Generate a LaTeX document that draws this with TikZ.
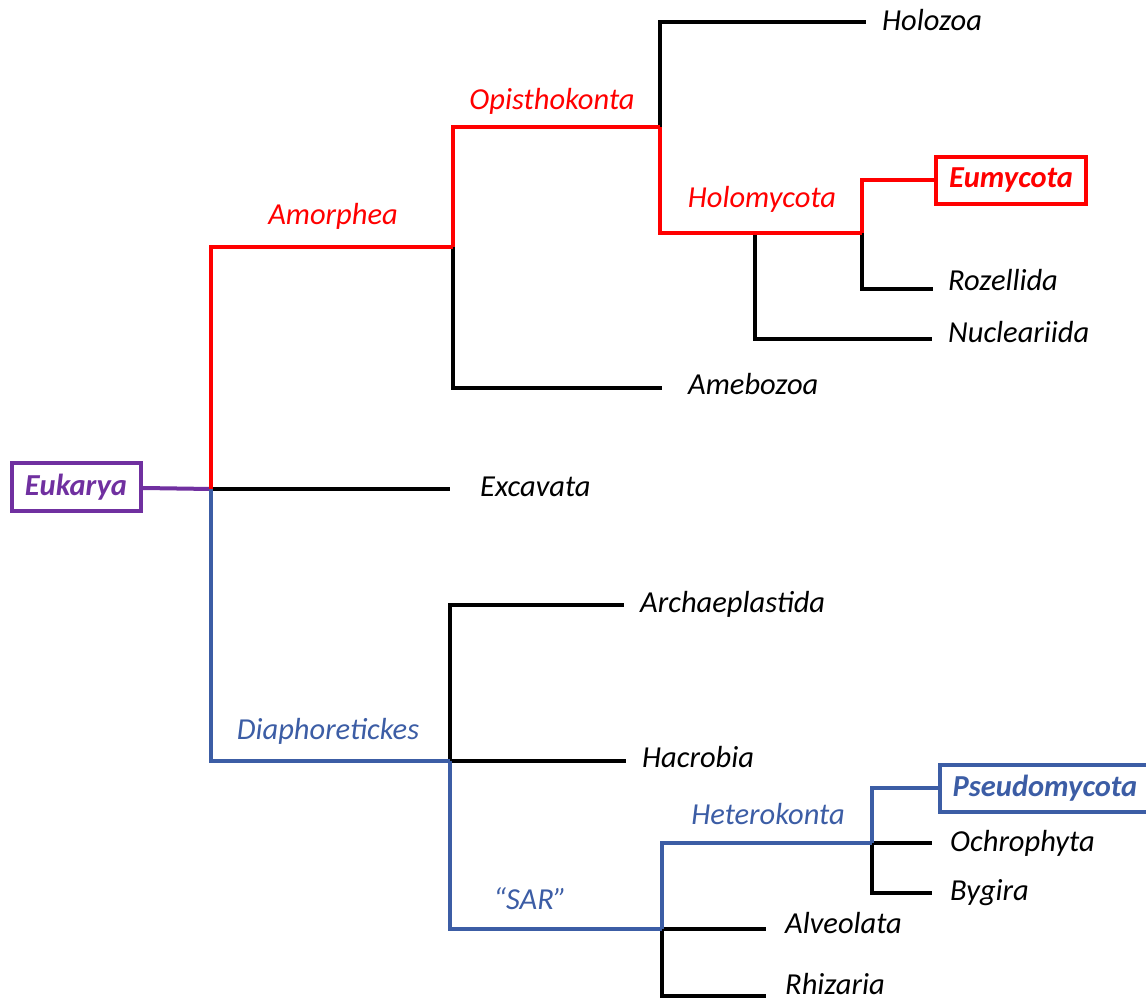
\documentclass[tikz,border=0pt]{standalone}
\usepackage{fontspec}
\setmainfont{Carlito}
\usetikzlibrary{positioning}
\definecolor{cladeRed}{HTML}{FF0000}
\definecolor{cladeBlue}{HTML}{3C5DA5}
\definecolor{cladePurple}{HTML}{7030A0}

\begin{document}
\begin{tikzpicture}[x=1pt, y=-1pt,
		branch/.style={line width=4pt, line join=miter},
		taxon/.style={anchor=west, inner xsep=16pt, inner ysep=0pt, text height=20pt, text depth=6pt, font=\fontsize{30.5}{36}\selectfont\itshape},
		clade/.style={inner sep=0pt, font=\fontsize{30.5}{36}\selectfont\itshape},
		highlight/.style={rectangle, draw, line width=4pt, inner sep=0pt, minimum height=47pt, font=\fontsize{30.5}{36}\selectfont\bfseries\itshape}]
		\path[use as bounding box, clip] (0,0) rectangle (1146,999);

		% branching points
		\coordinate (root) at (211,489);
		\coordinate (amo) at (453,247);
		\coordinate (opi) at (660,127);
		\coordinate (holm) at (862,233);
		\coordinate (nuc) at (755,233);
		\coordinate (dia) at (450,761);
		\coordinate (sar) at (662,929);
		\coordinate (het) at (872,843);

		% boxed taxa
		\node (eukarya)[highlight, draw=cladePurple, text=cladePurple, minimum width=129pt, minimum height=48pt] at (76,487) {Eukarya};
		\node (eumycota)[highlight, draw=cladeRed, text=cladeRed, minimum width=150pt, anchor=west] at (934,180) {Eumycota};
		\node (pseudomycota)[highlight, draw=cladeBlue, text=cladeBlue, minimum width=210pt, anchor=west] at (938,788) {Pseudomycota};

		% leaves
		\node (holozoa)[taxon, text depth=4pt] at (866,22) {Holozoa};
		\node (rozellida)[taxon, inner xsep=15pt, text depth=18pt] at (933,289) {Rozellida};
		\node (nucleariida)[taxon, text depth=14pt] at (932,339) {Nucleariida};
		\node (amebozoa)[taxon, inner xsep=26pt, text depth=8pt] at (662,388) {Amebozoa};
		\node (excavata)[taxon, inner xsep=30pt] at (450,489) {Excavata};
		\node (archaeplastida)[taxon, text depth=5pt] at (624,605) {Archaeplastida};
		\node (hacrobia)[taxon, text depth=8pt] at (626,761) {Hacrobia};
		\node (ochrophyta)[taxon, inner xsep=18pt, text depth=3pt] at (932,843) {Ochrophyta};
		\node (bygira)[taxon, inner xsep=18pt] at (932,893) {Bygira};
		\node (alveolata)[taxon, inner xsep=19pt, text depth=12pt] at (766,929) {Alveolata};
		\node (rhizaria)[taxon, inner xsep=19pt, text depth=24pt] at (766,996) {Rhizaria};

		% clade names
		\node (amorpheaName)[clade, text=cladeRed] at (333,216) {Amorphea};
		\node (opisthokontaName)[clade, text=cladeRed] at (552,101) {Opisthokonta};
		\node (holomycotaName)[clade, text=cladeRed] at (762,199) {Holomycota};
		\node (diaphoretickesName)[clade, text=cladeBlue] at (328,731) {Diaphoretickes};
		\node (sarName)[clade, text=cladeBlue] at (530,899) {“SAR”};
		\node (heterokontaName)[clade, text=cladeBlue] at (768,814) {Heterokonta};

		% black branches
		\draw[branch] (amo) |- (amebozoa.west);
		\draw[branch] (opi) |- (holozoa.west);
		\draw[branch] (nuc) |- (nucleariida.west);
		\draw[branch] (holm) |- (rozellida.west);
		\draw[branch] (root) -- (excavata.west);
		\draw[branch] (dia) |- (archaeplastida.west);
		\draw[branch] (dia) -- (hacrobia.west);
		\draw[branch] (het) -- (ochrophyta.west);
		\draw[branch] (het) |- (bygira.west);
		\draw[branch] (sar) -- (alveolata.west);
		\draw[branch] (sar) |- (rhizaria.west);

		% coloured branches
		\draw[branch, cladePurple] (eukarya) -- (root);
		\draw[branch, cladeRed] (root) |- (amo);
		\draw[branch, cladeRed] (amo) |- (opi);
		\draw[branch, cladeRed] (opi) |- (holm);
		\draw[branch, cladeRed] (holm) |- (eumycota.west);
		\draw[branch, cladeBlue] (root) |- (dia);
		\draw[branch, cladeBlue] (dia) |- (sar);
		\draw[branch, cladeBlue] (sar) |- (het);
		\draw[branch, cladeBlue] (het) |- (pseudomycota.west);
	\end{tikzpicture}
\end{document}
